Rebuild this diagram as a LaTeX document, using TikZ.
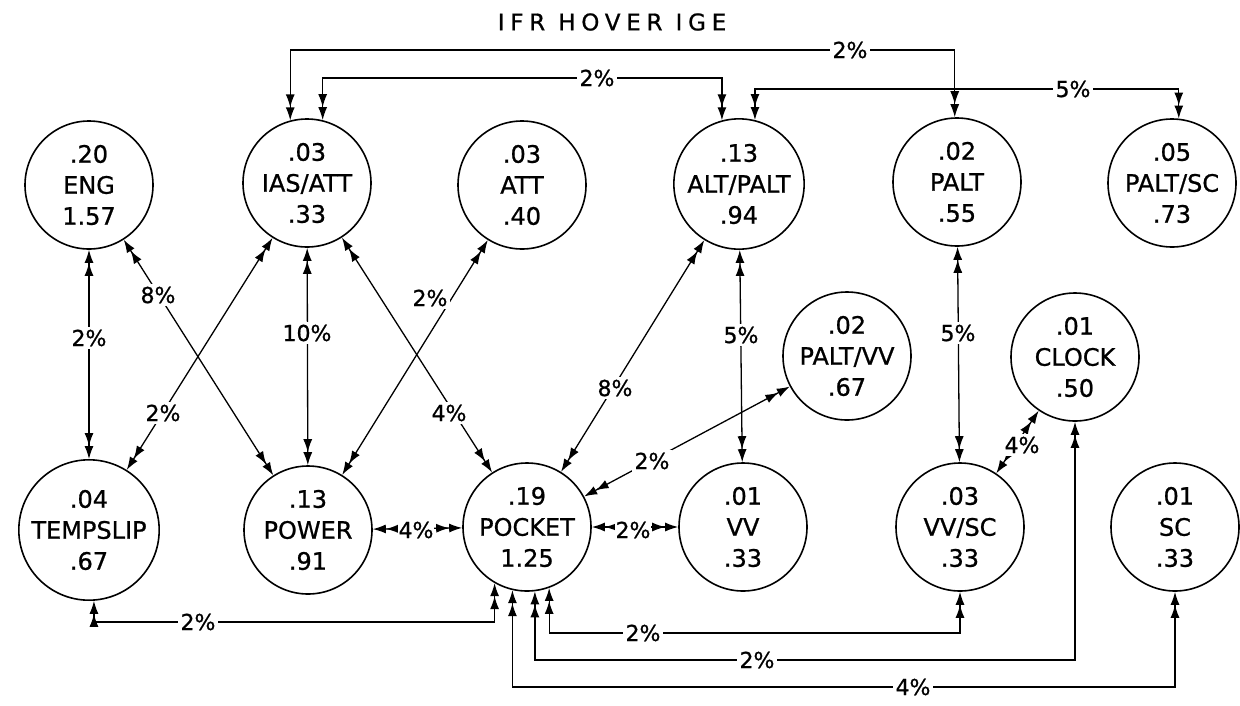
\documentclass[tikz,border=0pt]{standalone}
\usepackage{fontspec}
\setmainfont{DejaVu Sans}[FakeBold=0.8]
\newfontfamily\titlefont[LetterSpace=25,FakeBold=0.8]{DejaVu Sans}
\usetikzlibrary{arrows.meta}
\begin{document}
\begin{tikzpicture}[x=1pt,y=-1pt,
  st/.style={circle,draw,line width=1.6pt,minimum size=128pt,inner sep=0pt,align=center,font=\fontsize{24}{31}\selectfont},
  conn/.style={line width=1.3pt, arrows={Latex[length=13pt,width=9pt] Latex[length=13pt,width=9pt]-Latex[length=13pt,width=9pt] Latex[length=13pt,width=9pt]}},
  lbl/.style={fill=white,inner sep=3pt,font=\fontsize{22}{26}\selectfont}]
\useasboundingbox[fill=white] (0,0) rectangle (1240,705);
\node[font=\titlefont\fontsize{23}{27}\selectfont] (title) at (612,22) {IFR HOVER IGE};
% nodes
\node[st] (eng) at (89,185) {.20\\ENG\\1.57};
\node[st] (ias) at (307,183) {.03\\IAS/ATT\\.33};
\node[st] (att) at (522,185) {.03\\ATT\\.40};
\node[st] (alt) at (739,184) {.13\\ALT/PALT\\.94};
\node[st] (palt) at (957,182) {.02\\PALT\\.55};
\node[st] (paltsc) at (1172,183) {.05\\PALT/SC\\.73};
\node[st] (paltvv) at (847,356) {.02\\PALT/VV\\.67};
\node[st] (clock) at (1075,357) {.01\\CLOCK\\.50};
\node[st] (temp) at (89,530) {.04\\TEMPSLIP\\.67};
\node[st] (power) at (308,530) {.13\\POWER\\.91};
\node[st] (pocket) at (527,527) {.19\\POCKET\\1.25};
\node[st] (vv) at (743,527) {.01\\VV\\.33};
\node[st] (vvsc) at (960,527) {.03\\VV/SC\\.33};
\node[st] (sc) at (1175,527) {.01\\SC\\.33};
% route levels
\coordinate (r1) at (0,50);
\coordinate (r2) at (0,78);
\coordinate (r3) at (0,89);
\coordinate (b1) at (0,622);
\coordinate (b2) at (0,633);
\coordinate (b3) at (0,660);
\coordinate (b4) at (0,687);
% straight connectors
\draw[conn] (eng) -- (temp);
\draw[conn] (eng) -- (power);
\draw[conn] (ias) -- (temp);
\draw[conn] (ias) -- (power);
\draw[conn] (ias) -- (pocket);
\draw[conn] (att) -- (power);
\draw[conn] (alt) -- (pocket);
\draw[conn] (alt) -- (vv);
\draw[conn] (paltvv) -- (pocket);
\draw[conn] (power) -- (pocket);
\draw[conn] (pocket) -- (vv);
\draw[conn] (palt) -- (vvsc);
\draw[conn] (clock) -- (vvsc);
% routed connectors
\draw[conn] (ias.105) -- (ias.105 |- r1) -| (palt.92);
\draw[conn] (ias.76) -- (ias.76 |- r2) -| (alt.105);
\draw[conn] (alt.76) -- (alt.76 |- r3) -| (paltsc.84);
\draw[conn] (temp.274) -- (temp.274 |- b1) -| (pocket.240);
\draw[conn] (vvsc.270) -- (vvsc.270 |- b2) -| (pocket.290);
\draw[conn] (clock.270) -- (clock.270 |- b3) -| (pocket.277);
\draw[conn] (sc.270) -- (sc.270 |- b4) -| (pocket.257);
% labels
\node[lbl] (l1) at (89,338) {2\%};
\node[lbl] (l2) at (158,295) {8\%};
\node[lbl] (l3) at (163,413) {2\%};
\node[lbl] (l4) at (307,333) {10\%};
\node[lbl] (l5) at (449,413) {4\%};
\node[lbl] (l6) at (430,298) {2\%};
\node[lbl] (l7) at (615,388) {8\%};
\node[lbl] (l8) at (741,335) {5\%};
\node[lbl] (l9) at (652,461) {2\%};
\node[lbl,inner sep=1pt] (l10) at (416,530) {4\%};
\node[lbl,inner sep=1pt] (l11) at (633,530) {2\%};
\node[lbl] (l12) at (958,333) {5\%};
\node[lbl] (l13) at (1022,445) {4\%};
\node[lbl] (l14) at (850,50) {2\%};
\node[lbl] (l15) at (597,78) {2\%};
\node[lbl] (l16) at (1073,89) {5\%};
\node[lbl] (l17) at (198,622) {2\%};
\node[lbl] (l18) at (643,633) {2\%};
\node[lbl] (l19) at (757,660) {2\%};
\node[lbl] (l20) at (913,687) {4\%};
\end{tikzpicture}
\end{document}
